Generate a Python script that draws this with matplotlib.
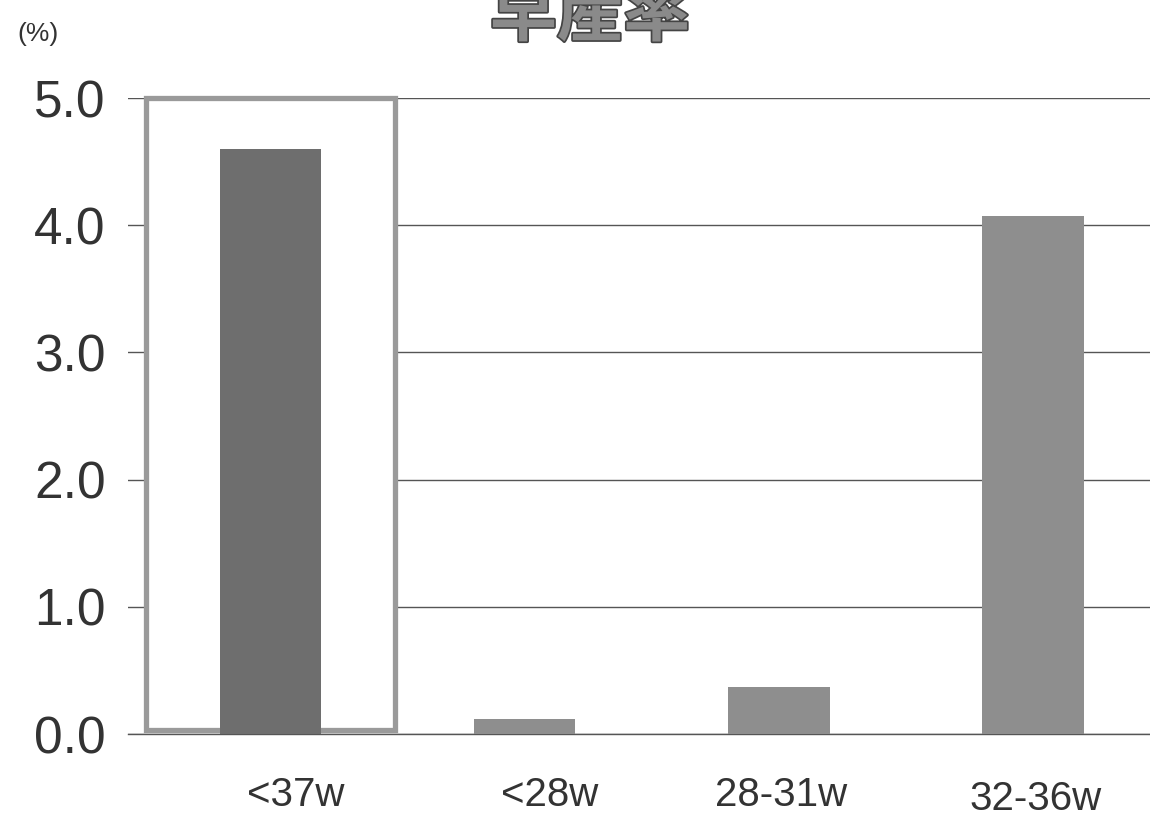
import matplotlib.pyplot as plt
import matplotlib.patheffects as pe
from matplotlib.patches import Rectangle

plt.rcParams['font.family'] = ['Liberation Sans', 'Noto Sans CJK JP', 'DejaVu Sans']

# preterm birth rate (%) by gestational week
categories = ['<37w', '<28w', '28-31w', '32-36w']
rates = [4.6, 0.12, 0.37, 4.07]
yticks = [0.0, 1.0, 2.0, 3.0, 4.0, 5.0]
colors = ['#6e6e6e', '#8e8e8e', '#8e8e8e', '#8e8e8e']

fig = plt.figure(figsize=(11.5, 8.18), dpi=100)
ax = fig.add_axes([128 / 1150, 1 - 734 / 818, 1 - 128 / 1150, 636 / 818])

x = list(range(len(categories)))
ax.bar(x, rates, width=0.4, color=colors, zorder=3)

# frame around the total (<37w) bar
ax.add_patch(Rectangle((-0.49, 0.03), 0.98, 4.97, facecolor='white',
                       edgecolor='#9a9a9a', linewidth=3.8, zorder=2,
                       clip_on=False))

ax.set_xlim(-0.56, 3.46)
ax.set_ylim(0, 5.0)
ax.set_yticks(yticks)
ax.set_yticklabels([f'{v:.1f}' for v in yticks], fontsize=37, color='#333333')
ax.set_xticks([v + 0.1 for v in x[:2]] + [v + 0.01 for v in x[2:]])
ax.set_xticklabels(categories, fontsize=29, color='#333333')
ax.tick_params(axis='both', length=0)
ax.tick_params(axis='y', pad=16)
ax.tick_params(axis='x', pad=30)
for lbl, dy in zip(ax.get_xticklabels(), [0, 0, 0, -5]):
    lbl.set_y(dy / 818)

ax.yaxis.grid(True, color='#555555', linewidth=1.0, zorder=1)
ax.axhline(0, color='#555555', linewidth=1.0, zorder=1, clip_on=False)
ax.set_axisbelow(True)
for s in ax.spines.values():
    s.set_visible(False)

fig.text(38 / 1150, 1 - 34 / 818, '(%)', fontsize=19, ha='center',
         va='center', color='#333333')
fig.text(590 / 1150, 1 - 16 / 818, '早産率', fontsize=48, fontweight='bold',
         ha='center', va='center', color='#8a8a8a',
         family=['Noto Sans CJK JP', 'DejaVu Sans'],
         path_effects=[pe.withStroke(linewidth=2.5, foreground='#444444')])

fig.savefig('out.png', dpi=100)
